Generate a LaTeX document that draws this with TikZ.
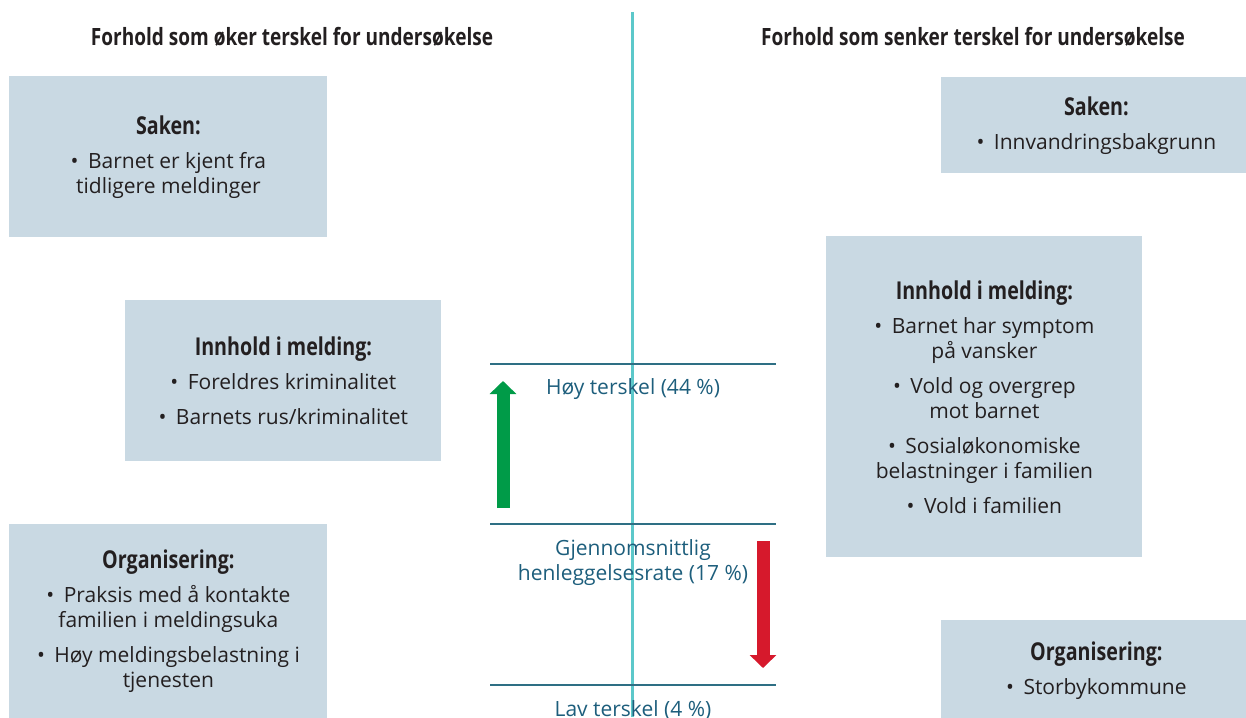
\documentclass[tikz,border=0pt]{standalone}
\usepackage{fontspec}
\setmainfont{Open Sans}
\newfontfamily\smalfont{Open Sans}[FakeStretch=0.8]
\usetikzlibrary{arrows.meta}
\definecolor{boksfarge}{HTML}{C9D9E3}
\definecolor{midtlinje}{HTML}{5CC8CA}
\definecolor{skala}{HTML}{2E6F84}
\definecolor{skalatekst}{HTML}{1D5E7C}
\definecolor{opp}{HTML}{009B48}
\definecolor{ned}{HTML}{D6192C}
\definecolor{svart}{HTML}{231F20}
\newcommand{\tittel}[1]{{\smalfont\bfseries\fontsize{12.3}{13}\selectfont #1}\\[4.5pt]}
\newcommand{\pkt}{\textbullet\hspace{0.45em}}
\tikzset{
	boks/.style={fill=boksfarge,text=svart,align=center,inner sep=0pt,anchor=north west,
		font=\fontsize{10.5}{12.5}\selectfont},
	overskrift/.style={text=svart,font=\smalfont\bfseries\fontsize{11.9}{14}\selectfont},
	skalalinje/.style={draw=skala,line width=0.75pt},
	skalanavn/.style={text=skalatekst,align=center,font=\fontsize{10.5}{12.5}\selectfont},
	pil/.style={line width=6.5pt,-{Triangle[length=6.5pt,width=13pt]}}
}
\begin{document}
\begin{tikzpicture}[x=0.5pt,y=-0.5pt]
	\useasboundingbox (0,0) rectangle (1246,717);
	\clip (0,0) rectangle (1246,717);
	\coordinate (topp) at (632.5,12);
	\coordinate (bunn) at (632.5,717);
	\node[overskrift] (okerhode) at (292,37) {Forhold som øker terskel for undersøkelse};
	\node[overskrift] (senkerhode) at (973,37) {Forhold som senker terskel for undersøkelse};
	\node[boks,minimum width=159pt,minimum height=80.5pt] (sakenV) at (9,76)
		{\tittel{Saken:}\pkt Barnet er kjent fra\\tidligere meldinger};
	\node[boks,minimum width=158pt,minimum height=80.5pt] (innholdV) at (125,300)
		{\tittel{Innhold i melding:}\pkt Foreldres kriminalitet\\[5pt]\pkt Barnets rus/kriminalitet};
	\node[boks,minimum width=159pt,minimum height=97pt] (orgV) at (9,524)
		{\tittel{Organisering:}\pkt Praksis med å kontakte\\familien i meldingsuka\\[5pt]\pkt Høy meldingsbelastning i\\tjenesten};
	\node[boks,minimum width=155pt,minimum height=48pt] (sakenH) at (941,77)
		{\tittel{Saken:}\pkt Innvandringsbakgrunn};
	\node[boks,minimum width=158pt,minimum height=160.5pt] (innholdH) at (826,236)
		{\tittel{Innhold i melding:}\pkt Barnet har symptom\\på vansker\\[5pt]\pkt Vold og overgrep\\mot barnet\\[5pt]\pkt Sosialøkonomiske\\belastninger i familien\\[5pt]\pkt Vold i familien};
	\node[boks,minimum width=155pt,minimum height=50pt] (orgH) at (941,620)
		{\tittel{Organisering:}\pkt Storbykommune};
	\draw[midtlinje,line width=1.1pt] (topp) -- (bunn);
	\coordinate (hoyV) at (490,364);
	\coordinate (hoyH) at (776,364);
	\coordinate (snittV) at (490,524);
	\coordinate (snittH) at (776,524);
	\coordinate (lavV) at (490,685);
	\coordinate (lavH) at (776,685);
	\draw[skalalinje] (hoyV) -- (hoyH);
	\draw[skalalinje] (snittV) -- (snittH);
	\draw[skalalinje] (lavV) -- (lavH);
	\node[skalanavn] (hoy) at (633,389) {Høy terskel (44 \%)};
	\node[skalanavn] (snitt) at (633,563) {Gjennomsnittlig\\henleggelsesrate (17 \%)};
	\node[skalanavn] (lav) at (633,710) {Lav terskel (4 \%)};
	\coordinate (oppfra) at (503,508);
	\coordinate (opptil) at (503,381);
	\coordinate (nedfra) at (763,541);
	\coordinate (nedtil) at (763,668);
	\draw[pil,opp] (oppfra) -- (opptil);
	\draw[pil,ned] (nedfra) -- (nedtil);
\end{tikzpicture}
\end{document}
